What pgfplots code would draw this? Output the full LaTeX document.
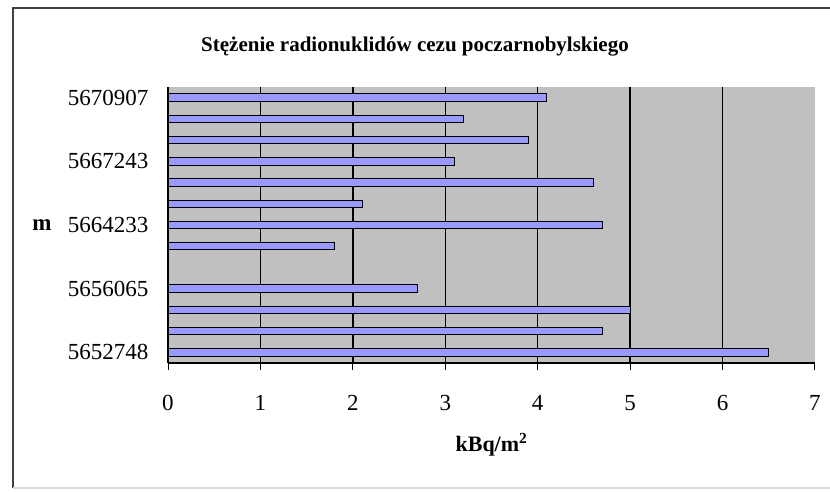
\documentclass[border=0pt]{standalone}
\usepackage{pgfplots}
\pgfplotsset{compat=1.18}
\usepackage{fontspec}
\setmainfont{Liberation Serif}
\definecolor{barfill}{RGB}{153,153,255}
\definecolor{plotbg}{RGB}{192,192,192}
\begin{document}
\begin{tikzpicture}[x=1pt,y=1pt]
\useasboundingbox (0,0) rectangle (830,492);
% outer chart frame
\draw[black!75, line width=2pt] (13,4) -- (13,484) -- (830,484);
\draw[black!15, line width=1.5pt] (13,4) -- (830,4);
% title
\node[font=\bfseries\fontsize{21}{21}\selectfont] at (415,445) {Stężenie radionuklidów cezu poczarnobylskiego};
\begin{axis}[
  at={(168pt,129pt)}, anchor=south west,
  scale only axis, width=647pt, height=276pt,
  xmin=0, xmax=7, ymin=0.5, ymax=13.5,
  axis x line*=bottom, axis y line*=left,
  axis line style={black, line width=1.2pt},
  axis background/.style={fill=plotbg},
  xtick={0,...,7},
  ytick={1,4,7,10,13},
  yticklabels={5652748,5656065,5664233,5667243,5670907},
  minor ytick={0.5,1.5,...,13.5},
  tick align=outside,
  major tick length=7pt, minor tick length=8pt,
  ytick style={draw=none},
  xtick style={black, line width=1pt},
  minor y tick style={black, line width=1pt},
  /pgf/number format/assume math mode=true,
  ticklabel style={font=\fontsize{23}{23}\selectfont},
  xticklabel style={yshift=-22pt},
  yticklabel style={xshift=-9pt},
  xlabel={\textbf{kBq/m\textsuperscript{2}}},
  xlabel style={at={(axis description cs:0.5,-0.297)}, anchor=center, font=\fontsize{22}{22}\selectfont},
  ylabel={\textbf{m}},
  ylabel style={at={(axis description cs:-0.195,0.5)}, anchor=center, rotate=-90, font=\fontsize{23}{23}\selectfont},
  xbar, bar width=7.5pt,
  clip=false,
]
\pgfplotsinvokeforeach{1,...,6}{\draw[black, line width=1.4pt] (axis cs:#1,0.5) -- (axis cs:#1,13.5);}
\addplot[fill=barfill, draw=black, line width=1pt] coordinates {
  (6.5,1) (4.7,2) (5.0,3) (2.7,4) (1.8,6) (4.7,7) (2.1,8) (4.6,9) (3.1,10) (3.9,11) (3.2,12) (4.1,13)
};
\end{axis}
\end{tikzpicture}
\end{document}
